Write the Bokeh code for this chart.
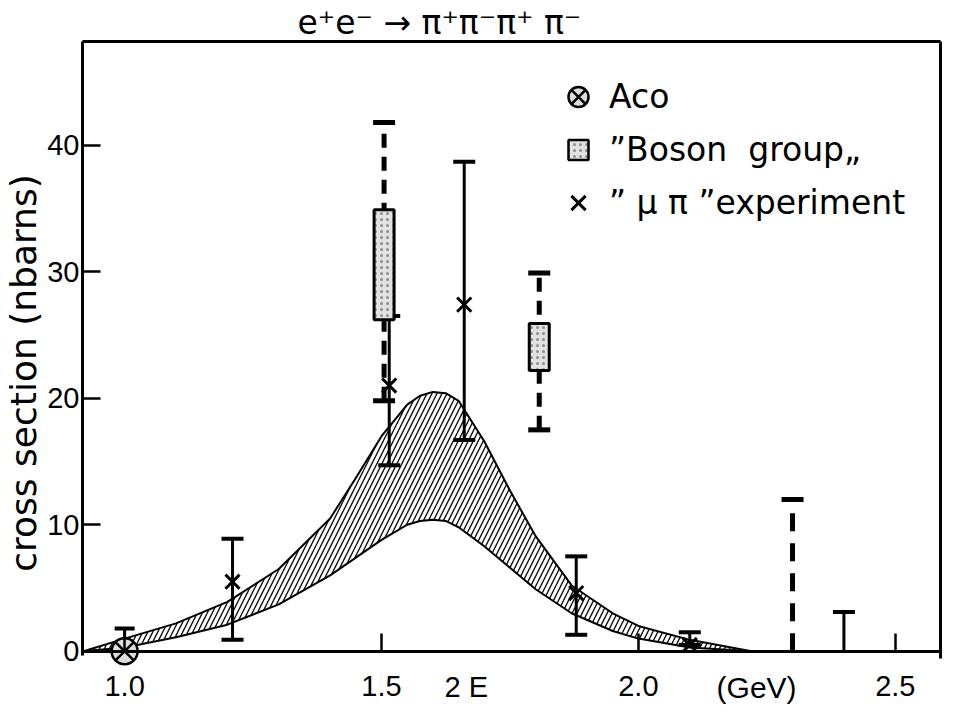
from bokeh.plotting import figure
from bokeh.models import (ColumnDataSource, Whisker, TeeHead, Range1d, FixedTicker,
                          Label, Legend, LegendItem, PrintfTickFormatter, LinearAxis)
from bokeh.embed import file_html
from bokeh.resources import INLINE

# ---------------- data ----------------
x_ticks = [1.0, 1.5, 2.0, 2.5]
y_ticks = [0, 10, 20, 30, 40]

# hatched band
band_x = [0.92, 1.0, 1.1, 1.2, 1.3, 1.4, 1.45, 1.5, 1.55, 1.575, 1.6, 1.625, 1.65, 1.7, 1.75, 1.8, 1.87, 1.95, 2.0, 2.1, 2.22]
band_hi = [0.0, 1.0, 2.2, 3.9, 6.5, 10.5, 13.7, 17.0, 19.5, 20.2, 20.5, 20.4, 19.8, 16.6, 12.7, 9.1, 5.2, 3.0, 2.0, 0.9, 0.0]
band_lo = [0.0, 0.3, 1.1, 2.1, 3.7, 6.0, 7.4, 8.8, 10.0, 10.3, 10.4, 10.3, 9.8, 8.3, 6.6, 4.9, 3.0, 1.6, 1.0, 0.3, 0.0]

# Aco
aco_x = [1.0]
aco_y = [0.0]
aco_hi = [1.8]

# "Boson group"
boson_x = [1.505, 1.807]
boson_box_lo = [26.2, 22.2]
boson_box_hi = [34.9, 25.9]
boson_err_lo = [19.8, 17.5]
boson_err_hi = [41.8, 29.9]
boson_lim_x = [2.30]
boson_lim_hi = [12.0]
boson_lim_lo = [0.0]

# "mu pi" experiment
mupi_x = [1.21, 1.515, 1.661, 1.879, 2.10]
mupi_y = [5.5, 21.0, 27.4, 4.6, 0.5]
mupi_lo = [0.9, 14.7, 16.7, 1.3, 0.5]
mupi_hi = [8.9, 26.5, 38.7, 7.5, 1.5]
mupi_lim_x = [2.40]
mupi_lim_hi = [3.1]
mupi_lim_lo = [0.0]

Y_TOP = 48.2
Y_BOTTOM = -4.21

# ---------------- figure ----------------
p = figure(frame_width=858, frame_height=663, output_backend="svg", toolbar_location=None,
           x_range=Range1d(0.918, 2.588), y_range=Range1d(Y_BOTTOM, Y_TOP),
           min_border_left=78, min_border_right=3, min_border_top=39, min_border_bottom=0,
           background_fill_color="white", border_fill_color="white")

p.title.text = "e\u207ae\u207b  \u2192  \u03c0\u207a\u03c0\u207b\u03c0\u207a  \u03c0\u207b"
p.title.text_font = "DejaVu Sans"
p.title.text_font_size = "33px"
p.title.text_font_style = "normal"
p.title.text_color = "black"
p.title.align = "left"
p.title.offset = 215
p.title.standoff = 0

p.grid.visible = False
p.outline_line_color = None

for ax in (p.xaxis, p.yaxis):
    ax.axis_line_width = 3
    ax.axis_line_color = "black"
    ax.major_tick_in = 18
    ax.major_tick_out = 0
    ax.major_tick_line_width = 2.5
    ax.major_tick_line_color = "black"
    ax.minor_tick_line_color = None
    ax.major_label_text_font = "Liberation Sans"
    ax.major_label_text_font_size = "29px"
    ax.major_label_text_color = "black"

p.xaxis.ticker = FixedTicker(ticks=x_ticks)
p.xaxis.formatter = PrintfTickFormatter(format="%.1f")
p.xaxis.major_label_standoff = 25
p.xaxis.fixed_location = 0

p.yaxis.ticker = FixedTicker(ticks=y_ticks)
p.yaxis.bounds = (-0.3, Y_TOP)
p.yaxis.major_label_standoff = 3
p.yaxis.axis_label = "cross section (nbarns)"
p.yaxis.axis_label_text_font = "DejaVu Sans"
p.yaxis.axis_label_text_font_size = "36px"
p.yaxis.axis_label_text_font_style = "normal"
p.yaxis.axis_label_text_color = "black"
p.yaxis.axis_label_standoff = 0

# frame lines on top and right (axes without ticks)
top_axis = LinearAxis(ticker=FixedTicker(ticks=[]), axis_line_width=3, axis_line_color="black",
                      major_tick_line_color=None, minor_tick_line_color=None)
right_axis = LinearAxis(ticker=FixedTicker(ticks=[]), axis_line_width=3, axis_line_color="black",
                        major_tick_line_color=None, minor_tick_line_color=None,
                        bounds=(-0.6, Y_TOP))
p.add_layout(top_axis, "above")
p.add_layout(right_axis, "right")

# ---------------- band ----------------
band_src = ColumnDataSource(dict(x=band_x, lo=band_lo, hi=band_hi))
p.varea(x="x", y1="lo", y2="hi", source=band_src, fill_color="white", fill_alpha=0,
        hatch_pattern="/", hatch_color="black", hatch_scale=10, hatch_weight=1.3)
p.line(x="x", y="hi", source=band_src, line_color="black", line_width=2)
p.line(x="x", y="lo", source=band_src, line_color="black", line_width=2)

# ---------------- Boson group ----------------
boson_src = ColumnDataSource(dict(
    x=boson_x, lo=boson_err_lo, hi=boson_err_hi,
    mid=[(a + b) / 2 for a, b in zip(boson_box_lo, boson_box_hi)],
    h=[b - a for a, b in zip(boson_box_lo, boson_box_hi)]))
p.add_layout(Whisker(source=boson_src, base="x", lower="lo", upper="hi", dimension="height",
                     line_color="black", line_width=5, line_dash="14 9",
                     upper_head=TeeHead(size=22, line_width=5, line_color="black"),
                     lower_head=TeeHead(size=22, line_width=5, line_color="black")))
boson_lim_src = ColumnDataSource(dict(x=boson_lim_x, lo=boson_lim_lo, hi=boson_lim_hi))
p.add_layout(Whisker(source=boson_lim_src, base="x", lower="lo", upper="hi", dimension="height",
                     line_color="black", line_width=5, line_dash="18 12",
                     upper_head=TeeHead(size=22, line_width=5, line_color="black"),
                     lower_head=None))
# legend marker for the Boson boxes (hidden under the boxes)
box_key = p.scatter(x="x", y="mid", source=boson_src, marker="square", size=18,
                    fill_color="#e2e2e2", line_color="black", line_width=2.5,
                    hatch_pattern=".", hatch_color="#555555", hatch_scale=6, hatch_alpha=0.6)
p.rect(x="x", y="mid", width=20, width_units="screen", height="h", source=boson_src,
       fill_color="#e2e2e2", line_color="black", line_width=3,
       hatch_pattern=".", hatch_color="#555555", hatch_scale=6, hatch_alpha=0.6)

# ---------------- mu pi experiment ----------------
mupi_src = ColumnDataSource(dict(x=mupi_x, y=mupi_y, lo=mupi_lo, hi=mupi_hi))
p.add_layout(Whisker(source=mupi_src, base="x", lower="lo", upper="hi", dimension="height",
                     line_color="black", line_width=3,
                     upper_head=TeeHead(size=22, line_width=4, line_color="black"),
                     lower_head=TeeHead(size=22, line_width=4, line_color="black")))
mupi_lim_src = ColumnDataSource(dict(x=mupi_lim_x, lo=mupi_lim_lo, hi=mupi_lim_hi))
p.add_layout(Whisker(source=mupi_lim_src, base="x", lower="lo", upper="hi", dimension="height",
                     line_color="black", line_width=3,
                     upper_head=TeeHead(size=22, line_width=4, line_color="black"),
                     lower_head=None))
x_r = p.scatter(x="x", y="y", source=mupi_src, marker="x", size=20,
                line_color="black", line_width=3)

# ---------------- Aco ----------------
aco_src = ColumnDataSource(dict(x=aco_x, y=aco_y, hi=aco_hi))
p.add_layout(Whisker(source=aco_src, base="x", lower="y", upper="hi", dimension="height",
                     line_color="black", line_width=3,
                     upper_head=TeeHead(size=20, line_width=4, line_color="black"),
                     lower_head=None))
aco_r = p.scatter(x="x", y="y", source=aco_src, marker="circle_x", size=26,
                  fill_color="#dddddd", line_color="black", line_width=2.5)

# ---------------- legend ----------------
legend = Legend(items=[
    LegendItem(label="Aco", renderers=[aco_r]),
    LegendItem(label="\u201dBoson  group\u201e", renderers=[box_key]),
    LegendItem(label="\u201d \u03bc \u03c0 \u201dexperiment", renderers=[x_r]),
], location=(471, 475), border_line_color=None, background_fill_alpha=0,
    label_text_font="DejaVu Sans", label_text_font_size="33px", label_text_color="black",
    glyph_width=50, glyph_height=53, label_height=53, spacing=0,
    padding=0, margin=0, label_standoff=6)
p.add_layout(legend)

# ---------------- axis title pieces ----------------
p.add_layout(Label(x=1.665, y=-2.85, text="2 E", text_align="center", text_baseline="middle",
                   text_font="Liberation Sans", text_font_size="29px", text_color="black"))
p.add_layout(Label(x=2.23, y=-2.85, text="(GeV)", text_align="center", text_baseline="middle",
                   text_font="Liberation Sans", text_font_size="30px", text_color="black"))

open("out.html", "w").write(file_html(p, INLINE))
